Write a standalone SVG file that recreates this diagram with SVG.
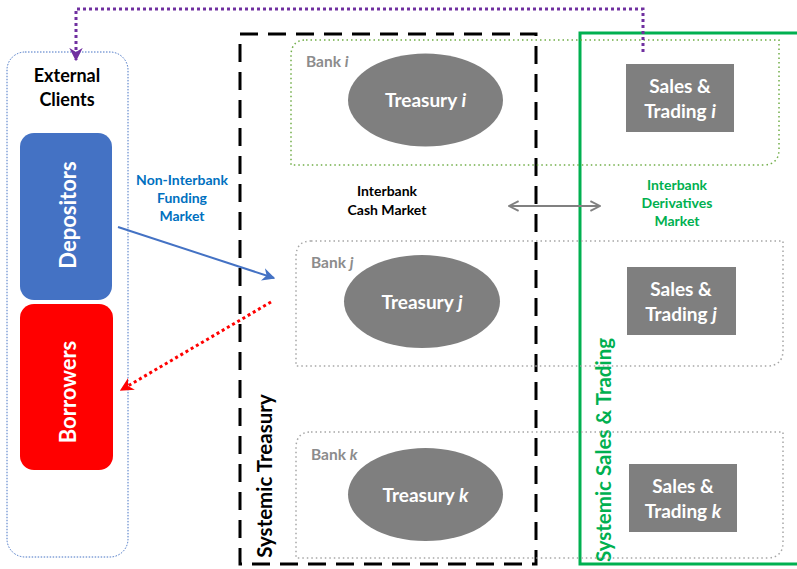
<svg xmlns="http://www.w3.org/2000/svg" width="797" height="569" viewBox="0 0 797 569">
  <defs>
    <style>
      text { font-family: Lato, "Open Sans", "Liberation Sans", sans-serif; font-weight: bold; }
      .bank { fill: none; stroke-width: 1.5; stroke-dasharray: 1.5 3; }
      .bank-i { stroke: #70AD47; }
      .bank-o { stroke: #A6A6A6; }
      .banklbl { fill: #8C8C8C; font-size: 15.5px; }
      .unit { fill: #7F7F7F; }
      .unitlbl { fill: #FFFFFF; font-size: 19px; text-anchor: middle; }
      .mkt { font-size: 14px; text-anchor: middle; }
      .c { text-anchor: middle; }
    </style>
    <marker id="arrBlue" viewBox="0 0 10 10" refX="9" refY="5" markerWidth="6.5" markerHeight="6.5" orient="auto">
      <path d="M0,0 L10,5 L0,10 L3,5 Z" fill="#4472C4"/>
    </marker>
    <marker id="arrRed" viewBox="0 0 10 10" refX="9" refY="5" markerWidth="4.5" markerHeight="4.5" orient="auto">
      <path d="M0,0 L10,5 L0,10 L3,5 Z" fill="#FF0000"/>
    </marker>
    <marker id="arrPurple" viewBox="0 0 10 10" refX="9" refY="5" markerWidth="4.5" markerHeight="4.5" orient="auto">
      <path d="M0,0 L10,5 L0,10 L3,5 Z" fill="#7030A0"/>
    </marker>
    <marker id="arrGray" viewBox="0 0 10 10" refX="9" refY="5" markerWidth="6" markerHeight="6" orient="auto-start-reverse">
      <path d="M1,1 L9,5 L1,9" fill="none" stroke="#808080" stroke-width="1.6"/>
    </marker>
  </defs>

  <!-- system frames -->
  <g id="systemic-treasury">
    <rect x="240" y="34" width="296" height="530" fill="none" stroke="#000" stroke-width="3" stroke-dasharray="18 10"/>
    <text transform="translate(272,476) rotate(-90)" class="c" font-size="20.5" fill="#000">Systemic Treasury</text>
  </g>
  <g id="systemic-sales-trading">
    <path d="M800,33 L580,33 L580,564 L800,564" fill="none" stroke="#00B050" stroke-width="3"/>
    <text transform="translate(611,450) rotate(-90)" class="c" font-size="20.5" fill="#00B050">Systemic Sales &amp; Trading</text>
  </g>

  <!-- external clients -->
  <g id="external-clients">
    <rect x="7" y="52" width="121" height="505" rx="18" fill="none" stroke="#4472C4" stroke-width="1" stroke-dasharray="1.5 1.5"/>
    <text x="67" y="82" class="c" font-size="18" fill="#000">External</text>
    <text x="67" y="106" class="c" font-size="18" fill="#000">Clients</text>
  </g>
  <g id="depositors">
    <rect x="20" y="133" width="92" height="167" rx="14" fill="#4472C4"/>
    <text transform="translate(76,215) rotate(-90)" class="c" font-size="22" fill="#FFFFFF">Depositors</text>
  </g>
  <g id="borrowers">
    <rect x="20" y="304" width="93" height="166" rx="14" fill="#FF0000"/>
    <text transform="translate(76,392) rotate(-90)" class="c" font-size="22" fill="#FFFFFF">Borrowers</text>
  </g>

  <!-- banks -->
  <g id="bank-i">
    <path class="bank bank-i" d="M306,40 L779,40 L779,149 Q779,165 763,165 L291,165 L291,56 Q291,40 306,40 Z"/>
    <text x="306" y="67" class="banklbl">Bank <tspan font-style="italic">i</tspan></text>
  </g>
  <g id="bank-j">
    <path class="bank bank-o" d="M311,241 L783,241 L783,350 Q783,366 767,366 L296,366 L296,257 Q296,241 311,241 Z"/>
    <text x="311" y="268" class="banklbl">Bank <tspan font-style="italic">j</tspan></text>
  </g>
  <g id="bank-k">
    <path class="bank bank-o" d="M311,432 L783,432 L783,542 Q783,558 767,558 L296,558 L296,448 Q296,432 311,432 Z"/>
    <text x="311" y="460" class="banklbl">Bank <tspan font-style="italic">k</tspan></text>
  </g>

  <g id="treasury-i">
    <ellipse cx="425.5" cy="100" rx="77.5" ry="46.5" class="unit"/>
    <text x="425.5" y="107" class="unitlbl">Treasury <tspan font-style="italic">i</tspan></text>
  </g>
  <g id="treasury-j">
    <ellipse cx="422" cy="301.5" rx="78" ry="46.5" class="unit"/>
    <text x="422" y="309" class="unitlbl">Treasury <tspan font-style="italic">j</tspan></text>
  </g>
  <g id="treasury-k">
    <ellipse cx="425.5" cy="494.5" rx="77.5" ry="46.5" class="unit"/>
    <text x="425.5" y="502" class="unitlbl">Treasury <tspan font-style="italic">k</tspan></text>
  </g>

  <g id="sales-trading-i">
    <rect x="626" y="64" width="108" height="68" class="unit"/>
    <text x="680" y="93" class="unitlbl">Sales &amp;</text>
    <text x="680" y="118" class="unitlbl">Trading <tspan font-style="italic">i</tspan></text>
  </g>
  <g id="sales-trading-j">
    <rect x="627" y="267" width="109" height="68" class="unit"/>
    <text x="681" y="296" class="unitlbl">Sales &amp;</text>
    <text x="681" y="321" class="unitlbl">Trading <tspan font-style="italic">j</tspan></text>
  </g>
  <g id="sales-trading-k">
    <rect x="629" y="464" width="108" height="68" class="unit"/>
    <text x="683" y="493" class="unitlbl">Sales &amp;</text>
    <text x="683" y="518" class="unitlbl">Trading <tspan font-style="italic">k</tspan></text>
  </g>

  <!-- market labels -->
  <g id="market-labels">
    <text class="mkt" fill="#0070C0"><tspan x="182" y="185">Non-Interbank</tspan><tspan x="182" y="203">Funding</tspan><tspan x="182" y="221">Market</tspan></text>
    <text class="mkt" fill="#000"><tspan x="387" y="196">Interbank</tspan><tspan x="387" y="215">Cash Market</tspan></text>
    <text class="mkt" fill="#00B050"><tspan x="677" y="190">Interbank</tspan><tspan x="677" y="208">Derivatives</tspan><tspan x="677" y="226">Market</tspan></text>
  </g>

  <!-- connectors -->
  <g id="connectors">
    <path d="M643,52 L643,9 L76,9 L76,60" fill="none" stroke="#7030A0" stroke-width="3" stroke-dasharray="3 3" marker-end="url(#arrPurple)"/>
    <line x1="118" y1="227" x2="274" y2="278" stroke="#4472C4" stroke-width="2" marker-end="url(#arrBlue)"/>
    <line x1="271" y1="302" x2="121" y2="390" stroke="#FF0000" stroke-width="3" stroke-dasharray="3 3" marker-end="url(#arrRed)"/>
    <line x1="509" y1="206" x2="600" y2="206" stroke="#808080" stroke-width="2" marker-start="url(#arrGray)" marker-end="url(#arrGray)"/>
  </g>
</svg>
